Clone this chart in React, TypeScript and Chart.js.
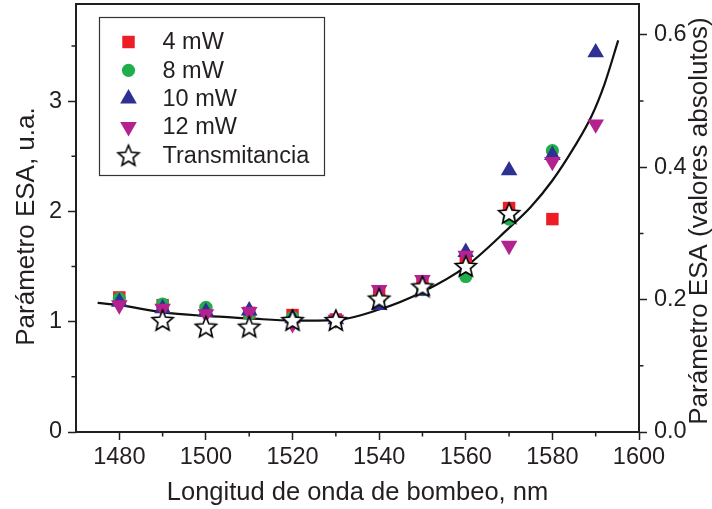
import React, { useEffect, useRef } from 'react';
import { Chart, registerables } from 'chart.js';
import { drawPoint } from 'chart.js/helpers';

Chart.register(...registerables);

// Pump wavelengths (nm) of the measured ESA points
const wavelengths = [1480, 1490, 1500, 1510, 1520, 1530, 1540, 1550, 1560, 1570, 1580, 1590];
// ESA parameter (a.u.) for each pump power
const esa4mW = [1.22, 1.15, 1.1, 1.08, 1.06, 1.02, 1.27, 1.34, 1.55, 2.03, 1.93, null];
const esa8mW = [1.21, 1.16, 1.13, 1.07, 1.04, 1.01, 1.2, 1.29, 1.41, 1.93, 2.55, null];
const esa10mW = [1.18, 1.12, 1.09, 1.1, 1.03, 1.02, 1.15, 1.28, 1.63, 2.37, 2.51, 3.44];
const esa12mW = [1.15, 1.12, 1.07, 1.09, 0.98, 1.02, 1.29, 1.38, 1.6, 1.69, 2.45, 2.79];
// ESA derived from transmittance
const transWavelengths = [1490, 1500, 1510, 1520, 1530, 1540, 1550, 1560, 1570];
const transmitancia = [1.015, 0.955, 0.955, 1.015, 1.015, 1.21, 1.32, 1.505, 1.985];
// Fitted trend curve
const fitWavelengths = [1475, 1480, 1490, 1500, 1510, 1520, 1530, 1540, 1550, 1560, 1570, 1575, 1580, 1585, 1589, 1592, 1595.2];
const fitValues = [1.17, 1.15, 1.085, 1.052, 1.03, 1.01, 1.015, 1.11, 1.27, 1.5, 1.85, 2.04, 2.28, 2.58, 2.86, 3.15, 3.55];

// Axis ticks
const xTicks = [1480, 1500, 1520, 1540, 1560, 1580, 1600];
const xMinorTicks = [1490, 1510, 1530, 1550, 1570, 1590];
const yTicks = [0, 1, 2, 3];
const yMinorTicks = [0.5, 1.5, 2.5, 3.5];
const y1Ticks = [0, 0.2, 0.4, 0.6];
const y1MinorTicks = [0.1, 0.3, 0.5];

const X_MIN = 1470;
const X_MAX = 1600;
const Y_MAX = 3.88;
const ABS_FACTOR = 6; // a.u. per absolute unit

const INK = '#231F20';
const SANS = "'Liberation Sans', Arial, sans-serif";
const NARROW = "'Liberation Sans Narrow', 'Arial Narrow', 'Liberation Sans', Arial, sans-serif";

function makeStar(outer: number, inner: number): HTMLCanvasElement {
  const size = Math.ceil(outer * 2 + 4);
  const c = document.createElement('canvas');
  c.width = size;
  c.height = size;
  const ctx = c.getContext('2d')!;
  const cx = size / 2;
  const cy = size / 2 + outer * 0.095;
  ctx.beginPath();
  for (let i = 0; i < 10; i++) {
    const r = i % 2 === 0 ? outer : inner;
    const a = -Math.PI / 2 + (i * Math.PI) / 5;
    const px = cx + r * Math.cos(a);
    const py = cy + r * Math.sin(a);
    if (i === 0) ctx.moveTo(px, py);
    else ctx.lineTo(px, py);
  }
  ctx.closePath();
  ctx.fillStyle = '#ffffff';
  ctx.fill();
  ctx.lineWidth = 1.6;
  ctx.strokeStyle = '#000000';
  ctx.lineJoin = 'miter';
  ctx.stroke();
  return c;
}

const toPoints = (xs: number[], ys: (number | null)[]) =>
  xs.map((x, i) => ({ x, y: ys[i] })).filter((p) => p.y !== null);

// Frame, minor ticks, axis titles and boxed legend
const decorations = {
  id: 'decorations',
  afterDraw(chart: any) {
    const { ctx, chartArea } = chart;
    const { left, right, top, bottom } = chartArea;
    const xs = chart.scales.x;
    const ys = chart.scales.y;
    const y1s = chart.scales.y1;
    ctx.save();

    // frame
    ctx.strokeStyle = INK;
    ctx.lineWidth = 2;
    ctx.strokeRect(left, top, right - left, bottom - top);

    // minor ticks
    ctx.lineWidth = 1.5;
    ctx.beginPath();
    xMinorTicks.forEach((v) => {
      const px = xs.getPixelForValue(v);
      ctx.moveTo(px, bottom);
      ctx.lineTo(px, bottom + 4.5);
    });
    yMinorTicks.forEach((v) => {
      const py = ys.getPixelForValue(v);
      ctx.moveTo(left - 4.5, py);
      ctx.lineTo(left, py);
    });
    y1MinorTicks.forEach((v) => {
      const py = y1s.getPixelForValue(v);
      ctx.moveTo(right, py);
      ctx.lineTo(right + 4.5, py);
    });
    ctx.stroke();

    // axis titles
    ctx.fillStyle = INK;
    ctx.textAlign = 'center';
    ctx.textBaseline = 'alphabetic';
    ctx.font = `25.5px ${SANS}`;
    ctx.fillText('Longitud de onda de bombeo, nm', (left + right) / 2, bottom + 67.5);

    ctx.font = `26px ${SANS}`;
    ctx.save();
    ctx.translate(left - 42.5, (top + bottom) / 2 + 8.5);
    ctx.rotate(-Math.PI / 2);
    ctx.fillText('Parámetro ESA, u.a.', 0, 0);
    ctx.restore();

    ctx.save();
    ctx.translate(right + 68, (top + bottom) / 2 + 3);
    ctx.rotate(-Math.PI / 2);
    ctx.fillText('Parámetro ESA (valores absolutos)', 0, 0);
    ctx.restore();

    // legend box
    const bx = left + 23.5;
    const by = top + 13.5;
    ctx.lineWidth = 1.2;
    ctx.strokeStyle = '#333333';
    ctx.strokeRect(bx, by, 225, 158);

    ctx.font = `23.5px ${SANS}`;
    ctx.textAlign = 'left';
    ctx.textBaseline = 'middle';
    const items = chart.data.datasets.filter((d: any) => d.inLegend);
    items.forEach((d: any, i: number) => {
      const cy = by + 24.5 + i * 28.3;
      const cx = bx + 29;
      ctx.fillStyle = d.backgroundColor;
      ctx.strokeStyle = d.borderColor || INK;
      drawPoint(ctx, {
        pointStyle: d.pointStyle,
        rotation: d.pointRotation || 0,
        radius: d.pointRadius,
        borderWidth: 0,
      } as any, cx, cy);
      ctx.fillStyle = INK;
      ctx.fillText(d.label, bx + 63, cy + 1);
    });

    ctx.restore();
  },
};

export default function App() {
  const canvasRef = useRef<HTMLCanvasElement | null>(null);

  useEffect(() => {
    if (!canvasRef.current) return;
    const star = makeStar(11, 4.9);

    const marker = (label: string, data: any[], color: string, style: any, radius: number, rotation: number, order: number) => ({
      label,
      data,
      inLegend: true,
      backgroundColor: color,
      borderColor: color,
      borderWidth: 0,
      pointStyle: style,
      pointRadius: radius,
      pointHoverRadius: radius,
      pointRotation: rotation,
      pointBorderWidth: 0,
      showLine: false,
      order,
    });

    const chart = new Chart(canvasRef.current, {
      type: 'scatter',
      data: {
        datasets: [
          marker('4 mW', toPoints(wavelengths, esa4mW), '#EE1C25', 'rect', 8.8, 0, 4),
          marker('8 mW', toPoints(wavelengths, esa8mW), '#1FAE4B', 'circle', 6.6, 0, 3),
          marker('10 mW', toPoints(wavelengths, esa10mW), '#2E3192', 'triangle', 9.6, 0, 2),
          marker('12 mW', toPoints(wavelengths, esa12mW), '#B3228F', 'triangle', 9.6, 180, 1),
          {
            ...marker('Transmitancia', toPoints(transWavelengths, transmitancia), '#ffffff', star, 11, 0, 0),
            borderColor: INK,
          },
          {
            label: 'ajuste',
            data: toPoints(fitWavelengths, fitValues),
            showLine: true,
            borderColor: '#111111',
            borderWidth: 2.2,
            pointRadius: 0,
            pointHoverRadius: 0,
            cubicInterpolationMode: 'monotone',
            fill: false,
            order: 5,
          } as any,
        ],
      },
      options: {
        animation: false,
        responsive: true,
        maintainAspectRatio: false,
        devicePixelRatio: 1,
        layout: { padding: { top: 4, left: 0, right: 0, bottom: 0 }, autoPadding: false } as any,
        plugins: { legend: { display: false }, tooltip: { enabled: false } },
        events: [],
        scales: {
          x: {
            type: 'linear',
            position: 'bottom',
            min: X_MIN,
            max: X_MAX,
            afterFit: (s: any) => {
              s.height = 77;
              s.paddingLeft = 0;
              s.paddingRight = 0;
            },
            afterBuildTicks: (s: any) => {
              s.ticks = xTicks.map((value) => ({ value }));
            },
            border: { display: false },
            grid: {
              display: true,
              drawOnChartArea: false,
              drawTicks: true,
              tickLength: 8,
              tickWidth: 1.5,
              tickColor: INK,
            },
            ticks: {
              color: INK,
              padding: 3,
              maxRotation: 0,
              font: { family: NARROW, size: 23.5 },
              callback: (v: any) => String(v),
            },
          },
          y: {
            type: 'linear',
            position: 'left',
            min: 0,
            max: Y_MAX,
            afterFit: (s: any) => {
              s.width = 76;
              s.paddingTop = 0;
              s.paddingBottom = 0;
            },
            afterBuildTicks: (s: any) => {
              s.ticks = yTicks.map((value) => ({ value }));
            },
            border: { display: false },
            grid: {
              display: true,
              drawOnChartArea: false,
              drawTicks: true,
              tickLength: 8,
              tickWidth: 1.5,
              tickColor: INK,
            },
            ticks: {
              color: INK,
              padding: 6,
              font: { family: NARROW, size: 23.5 },
              callback: (v: any) => String(v),
            },
          },
          y1: {
            type: 'linear',
            position: 'right',
            min: 0,
            max: Y_MAX / ABS_FACTOR,
            afterFit: (s: any) => {
              s.width = 73;
              s.paddingTop = 0;
              s.paddingBottom = 0;
            },
            afterBuildTicks: (s: any) => {
              s.ticks = y1Ticks.map((value) => ({ value }));
            },
            border: { display: false },
            grid: {
              display: true,
              drawOnChartArea: false,
              drawTicks: true,
              tickLength: 8,
              tickWidth: 1.5,
              tickColor: INK,
            },
            ticks: {
              color: INK,
              padding: 7,
              font: { family: NARROW, size: 23.5 },
              callback: (v: any) => Number(v).toFixed(1),
            },
          },
        },
      } as any,
      plugins: [decorations],
    });

    return () => chart.destroy();
  }, []);

  return (
    <div style={{ position: 'absolute', left: 0, top: 0, width: 712, height: 509, background: '#ffffff' }}>
      <canvas ref={canvasRef} />
    </div>
  );
}
